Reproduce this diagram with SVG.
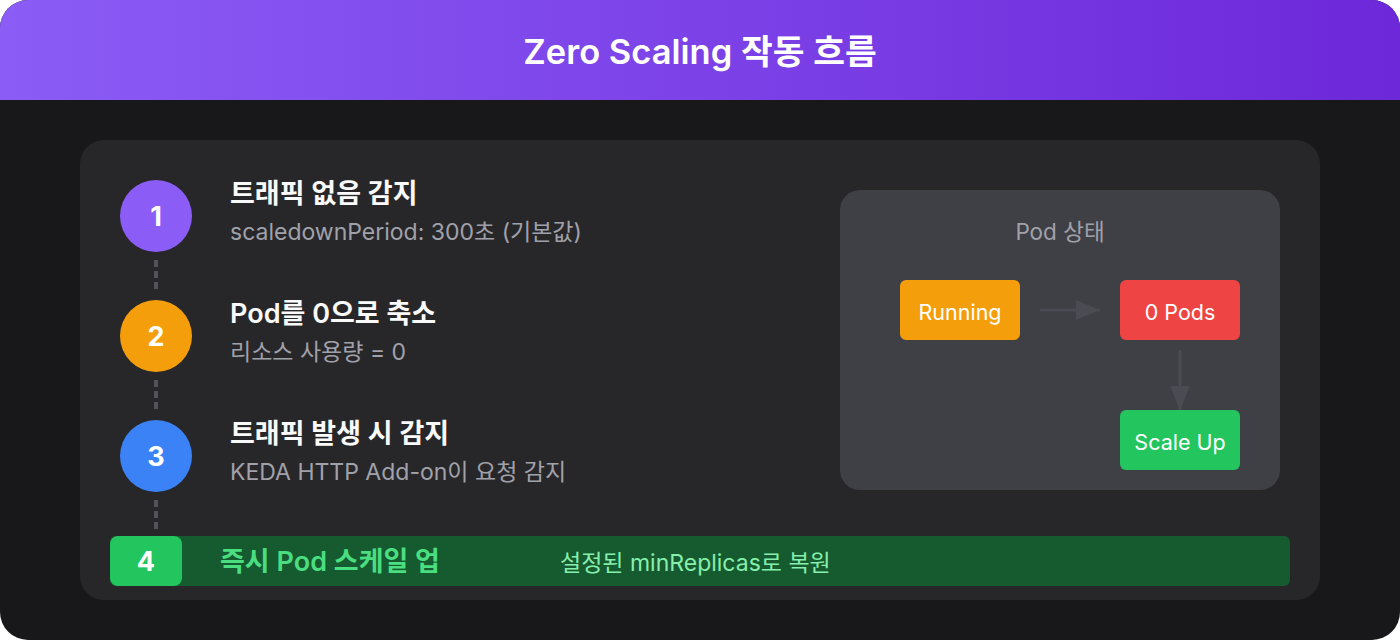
<svg xmlns="http://www.w3.org/2000/svg" width="1400" height="640" viewBox="0 0 1400 640">
<defs>
<linearGradient id="hdr" x1="0" y1="0" x2="1" y2="0">
<stop offset="0" stop-color="#8b5cf6"/>
<stop offset="1" stop-color="#6d28d9"/>
</linearGradient>
<clipPath id="frame"><rect x="0" y="0" width="1400" height="640" rx="28"/></clipPath>
<marker id="arr" viewBox="0 0 24 20" refX="24" refY="10" markerWidth="24" markerHeight="20" orient="auto" markerUnits="userSpaceOnUse">
<path d="M0,0 L24,10 L0,20 Z" fill="#4b4b53"/>
</marker>
<style>
text{font-family:Inter,"Noto Sans CJK KR","Noto Sans",sans-serif}
.num{font-size:27px;font-weight:700;fill:#fff;text-anchor:middle}
.t{font-size:27px;font-weight:600;fill:#fafafa}
.s{font-size:23px;fill:#a1a1aa}
.box{font-size:21.5px;fill:#fff;text-anchor:middle}
.dash{stroke:#52525b;stroke-width:4;stroke-dasharray:7 4;fill:none}
.conn{stroke:#4b4b53;stroke-width:3;fill:none}
</style>
</defs>
<g clip-path="url(#frame)">
<rect x="0" y="0" width="1400" height="640" fill="#18181b"/>
<rect x="0" y="0" width="1400" height="100" fill="url(#hdr)"/>
</g>
<text x="700" y="64" font-size="34.5" font-weight="600" fill="#fff" text-anchor="middle">Zero Scaling 작동 흐름</text>
<rect x="80" y="140" width="1240" height="460" rx="24" fill="#27272a"/>
<g id="step1">
<circle cx="156" cy="216" r="36" fill="#8b5cf6"/>
<text class="num" x="156" y="226">1</text>
<text class="t" x="230" y="203">트래픽 없음 감지</text>
<text class="s" x="230" y="240">scaledownPeriod: 300초 (기본값)</text>
</g>
<g id="step2">
<circle cx="156" cy="336" r="36" fill="#f59e0b"/>
<text class="num" x="156" y="346">2</text>
<text class="t" x="230" y="323">Pod를 0으로 축소</text>
<text class="s" x="230" y="360">리소스 사용량 = 0</text>
</g>
<g id="step3">
<circle cx="156" cy="456" r="36" fill="#3b82f6"/>
<text class="num" x="156" y="466">3</text>
<text class="t" x="230" y="443">트래픽 발생 시 감지</text>
<text class="s" x="230" y="480">KEDA HTTP Add-on이 요청 감지</text>
</g>
<g id="step4">
<rect x="110" y="536" width="1180" height="50" rx="6" fill="#165a30"/>
<rect x="110" y="536" width="72" height="50" rx="8" fill="#22c55e"/>
<text class="num" x="146" y="571" font-size="24">4</text>
<text x="220" y="571" font-size="27" font-weight="600" fill="#4ade80">즉시 Pod 스케일 업</text>
<text x="560" y="571" font-size="23" fill="#86efac">설정된 minReplicas로 복원</text>
</g>
<g id="pod-state">
<rect x="840" y="190" width="440" height="300" rx="20" fill="#3f3f46"/>
<text x="1060" y="240" font-size="22.5" fill="#a1a1aa" text-anchor="middle">Pod 상태</text>
</g>
<g id="running">
<rect x="900" y="280" width="120" height="60" rx="6" fill="#f59e0b"/>
<text class="box" x="960" y="320">Running</text>
</g>
<g id="zero-pods">
<rect x="1120" y="280" width="120" height="60" rx="6" fill="#ef4444"/>
<text class="box" x="1180" y="320">0 Pods</text>
</g>
<g id="scale-up">
<rect x="1120" y="410" width="120" height="60" rx="6" fill="#22c55e"/>
<text class="box" x="1180" y="450">Scale Up</text>
</g>
<g id="connectors">
<line class="dash" x1="156" y1="260" x2="156" y2="291"/>
<line class="dash" x1="156" y1="380" x2="156" y2="411"/>
<line class="dash" x1="156" y1="500" x2="156" y2="531"/>
<line class="conn" x1="1040" y1="310" x2="1100" y2="310" marker-end="url(#arr)"/>
<line class="conn" x1="1180" y1="350" x2="1180" y2="410" marker-end="url(#arr)"/>
</g>
</svg>
